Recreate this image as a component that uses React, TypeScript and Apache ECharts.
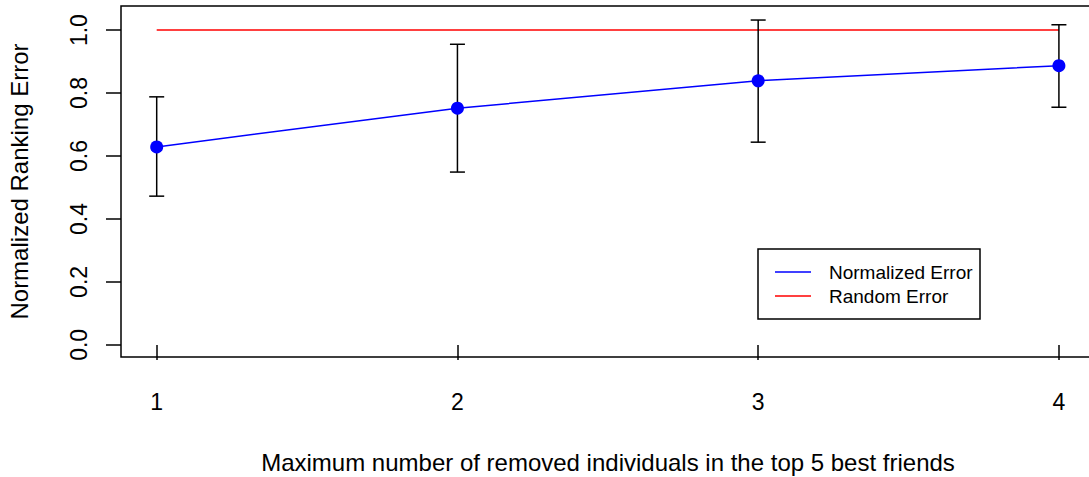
import React, { useEffect, useRef } from "react";
import * as echarts from "echarts";

const xValues = [1, 2, 3, 4];
const meanError = [0.629, 0.752, 0.839, 0.887];
const lowerError = [0.4725, 0.549, 0.644, 0.755];
const upperError = [0.788, 0.955, 1.032, 1.017];
const randomX = [1, 4];
const randomError = [1, 1];
const xTicks = [1, 2, 3, 4];
const yTicks = [0, 0.2, 0.4, 0.6, 0.8, 1.0];
const legendLabels = ["Normalized Error", "Random Error"];

const FONT = "'Liberation Sans', Arial, Helvetica, sans-serif";

export default function App() {
  const ref = useRef<HTMLDivElement>(null);
  useEffect(() => {
    if (!ref.current) return;
    const chart = echarts.init(ref.current, null, { renderer: "svg" });
    const meanData = xValues.map((x, i) => [x, meanError[i]]);
    const barData = xValues.map((x, i) => [x, lowerError[i], upperError[i]]);
    const randomData = randomX.map((x, i) => [x, randomError[i]]);
    chart.setOption({
      animation: false,
      backgroundColor: "#fff",
      textStyle: { fontFamily: FONT },
      grid: {
        left: 121,
        top: 6,
        width: 974,
        height: 351,
        show: true,
        borderColor: "#000",
        borderWidth: 1.5,
        backgroundColor: "transparent",
        containLabel: false,
        outerBoundsMode: "none",
      },
      xAxis: {
        type: "value",
        min: 0.8813,
        max: 4.12,
        axisLine: { show: false },
        splitLine: { show: false },
        axisTick: {
          show: true,
          length: 15,
          customValues: xTicks,
          lineStyle: { color: "#000", width: 1.5 },
        },
        axisLabel: {
          customValues: xTicks,
          margin: 33,
          fontSize: 23,
          color: "#000",
          fontFamily: FONT,
        },
        name: "Maximum number of removed individuals in the top 5 best friends",
        nameLocation: "middle",
        nameGap: 93,
        nameTextStyle: { fontSize: 24, color: "#000", fontFamily: FONT },
      },
      yAxis: {
        type: "value",
        min: -0.0385,
        max: 1.0766,
        axisLine: { show: false },
        splitLine: { show: false },
        axisTick: {
          show: true,
          length: 15,
          customValues: yTicks,
          lineStyle: { color: "#000", width: 1.5 },
        },
        axisLabel: {
          customValues: yTicks,
          rotate: 90,
          margin: 31,
          fontSize: 23,
          color: "#000",
          fontFamily: FONT,
          formatter: (v: number) => v.toFixed(1),
        },
        name: "Normalized Ranking Error",
        nameLocation: "middle",
        nameGap: 90,
        nameTextStyle: { fontSize: 24, color: "#000", fontFamily: FONT },
      },
      graphic: [
        {
          type: "rect",
          shape: { x: 758, y: 249, width: 222, height: 70 },
          style: { fill: "#fff", stroke: "#000", lineWidth: 1.5 },
          z: 100,
        },
        {
          type: "line",
          shape: { x1: 775, y1: 272, x2: 811, y2: 272 },
          style: { stroke: "#0000ff", lineWidth: 1.5 },
          z: 101,
        },
        {
          type: "line",
          shape: { x1: 775, y1: 296, x2: 811, y2: 296 },
          style: { stroke: "#ff0000", lineWidth: 1.5 },
          z: 101,
        },
        {
          type: "text",
          x: 829,
          y: 272,
          style: {
            text: legendLabels[0],
            fontSize: 19,
            fontFamily: FONT,
            fill: "#000",
            verticalAlign: "middle",
            align: "left",
          },
          z: 101,
        },
        {
          type: "text",
          x: 829,
          y: 296,
          style: {
            text: legendLabels[1],
            fontSize: 19,
            fontFamily: FONT,
            fill: "#000",
            verticalAlign: "middle",
            align: "left",
          },
          z: 101,
        },
      ],
      series: [
        {
          name: "Random Error",
          type: "line",
          data: randomData,
          showSymbol: false,
          symbol: "none",
          lineStyle: { color: "#ff0000", width: 1.5 },
          z: 2,
        },
        {
          name: "Error bars",
          type: "custom",
          data: barData,
          z: 3,
          renderItem: (params: any, api: any) => {
            const x = api.value(0);
            const pLo = api.coord([x, api.value(1)]);
            const pHi = api.coord([x, api.value(2)]);
            const cap = 7.5;
            const style = { stroke: "#000", lineWidth: 1.5 };
            return {
              type: "group",
              children: [
                { type: "line", shape: { x1: pLo[0], y1: pLo[1], x2: pHi[0], y2: pHi[1] }, style },
                { type: "line", shape: { x1: pLo[0] - cap, y1: pLo[1], x2: pLo[0] + cap, y2: pLo[1] }, style },
                { type: "line", shape: { x1: pHi[0] - cap, y1: pHi[1], x2: pHi[0] + cap, y2: pHi[1] }, style },
              ],
            };
          },
        },
        {
          name: "Normalized Error",
          type: "line",
          data: meanData,
          symbol: "circle",
          symbolSize: 13,
          itemStyle: { color: "#0000ff" },
          lineStyle: { color: "#0000ff", width: 1.5 },
          z: 4,
        },
      ],
    });
    return () => chart.dispose();
  }, []);
  return (
    <div
      ref={ref}
      style={{ position: "absolute", left: 0, top: 0, width: 1089, height: 477 }}
    />
  );
}
